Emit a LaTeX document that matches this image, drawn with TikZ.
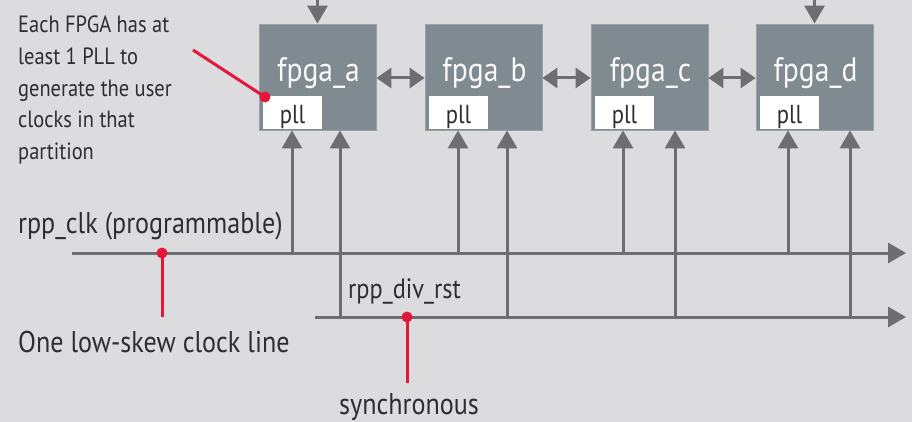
\documentclass[tikz,border=0pt]{standalone}
\usepackage{fontspec}
\setmainfont{PT Sans}[FakeStretch=0.87]
\usetikzlibrary{arrows.meta}
\definecolor{bg}{RGB}{220,220,223}
\definecolor{boxc}{RGB}{128,139,145}
\definecolor{linec}{RGB}{110,110,112}
\definecolor{redc}{RGB}{228,22,58}
\definecolor{txt}{RGB}{45,45,50}
\tikzset{
  fpga/.style={fill=boxc, draw=boxc!80!white, line width=0.8pt, minimum width=117pt, minimum height=106pt, inner sep=0pt},
  fname/.style={anchor=base, text=white!95!boxc, inner sep=0pt, font=\fontsize{34}{38}\selectfont},
  pllbox/.style={fill=white, inner sep=0pt, minimum width=59pt, minimum height=33pt, text height=28pt, text depth=5pt, text=txt, font=\fontsize{26}{28}\selectfont},
  lbl/.style={anchor=base west, inner sep=0pt, text=txt, font=\fontsize{30}{34}\selectfont},
  note/.style={lbl, font=\fontsize{23.5}{32}\selectfont},
  arr/.style={draw=linec, line width=3pt, -{Triangle[length=18pt,width=20pt]}, color=linec},
  darr/.style={draw=linec, line width=3pt, {Triangle[length=15pt,width=20pt]}-{Triangle[length=15pt,width=20pt]}, color=linec},
  dot/.style={circle, fill=redc, inner sep=0pt, minimum size=11pt},
  rline/.style={draw=redc, line width=3pt},
}
\begin{document}
\begin{tikzpicture}[x=1pt,y=-1pt]
\fill[bg] (0,0) rectangle (912,422);
\useasboundingbox (0,0) rectangle (912,422);

% fpga boxes
\node[fpga] (a) at (317.5,77) {};
\node[fpga] (b) at (483.5,77) {};
\node[fpga] (c) at (649.5,77) {};
\node[fpga] (d) at (814.5,77) {};

\node[fname] (na) at (318.5,82) {fpga\_a};
\node[fname] (nb) at (484.5,82) {fpga\_b};
\node[fname] (nc) at (650.5,82) {fpga\_c};
\node[fname] (nd) at (815.5,82) {fpga\_d};

\node[pllbox] (pa) at (292.5,112.5) {pll};
\node[pllbox] (pb) at (458.5,112.5) {pll};
\node[pllbox] (pc) at (624.5,112.5) {pll};
\node[pllbox] (pd) at (789.5,112.5) {pll};

% top arrows
\coordinate (ta) at (317.5,-2);
\coordinate (td) at (814.5,-2);
\draw[arr] (ta) -- (a.north);
\draw[arr] (td) -- (d.north);

% double arrows
\draw[darr] ([yshift=-1pt]a.east) -- ([yshift=-1pt]b.west);
\draw[darr] ([yshift=-1pt]b.east) -- ([yshift=-1pt]c.west);
\draw[darr] ([yshift=-1pt]c.east) -- ([yshift=-1pt]d.west);

% buses
\coordinate (clkL) at (72,253);
\coordinate (clkR) at (906,253);
\coordinate (rstL) at (315,317);
\coordinate (rstR) at (906,317);
\draw[arr] (clkL) -- (clkR);
\draw[arr] (rstL) -- (rstR);

% taps
\coordinate (ca) at (292,253);
\coordinate (cb) at (458,253);
\coordinate (cc) at (623,253);
\coordinate (cd) at (788,253);
\coordinate (ra) at (340,317);
\coordinate (rb) at (507,317);
\coordinate (rc) at (675,317);
\coordinate (rd) at (850,317);
\foreach \t/\n in {ca/a,cb/b,cc/c,cd/d,ra/a,rb/b,rc/c,rd/d}{
  \draw[arr] (\t) -- (\t |- \n.south);
}

% labels
\node[note] (t1) at (18,33) {Each FPGA has at};
\node[note] (t2) at (18,65) {least 1 PLL to};
\node[note] (t3) at (18,97) {generate the user};
\node[note] (t4) at (18,128) {clocks in that};
\node[note] (t5) at (18,160) {partition};
\node[lbl] (lclk) at (18,233) {rpp\_clk (programmable)};
\node[lbl, font=\fontsize{28}{32}\selectfont] (lrst) at (348,298) {rpp\_div\_rst};
\node[lbl] (lone) at (18,352) {One low-skew clock line};
\node[lbl, anchor=base] (lsyn) at (409,414) {synchronous};

% red annotations
\coordinate (r1) at (193,50);
\node[dot] (d1) at (265,97) {};
\draw[rline] (r1) -- (d1.center);
\coordinate (r2) at (162,317);
\node[dot] (d2) at (162,253) {};
\draw[rline] (d2.center) -- (r2);
\coordinate (r3) at (407,383);
\node[dot] (d3) at (407,317) {};
\draw[rline] (d3.center) -- (r3);
\end{tikzpicture}
\end{document}
